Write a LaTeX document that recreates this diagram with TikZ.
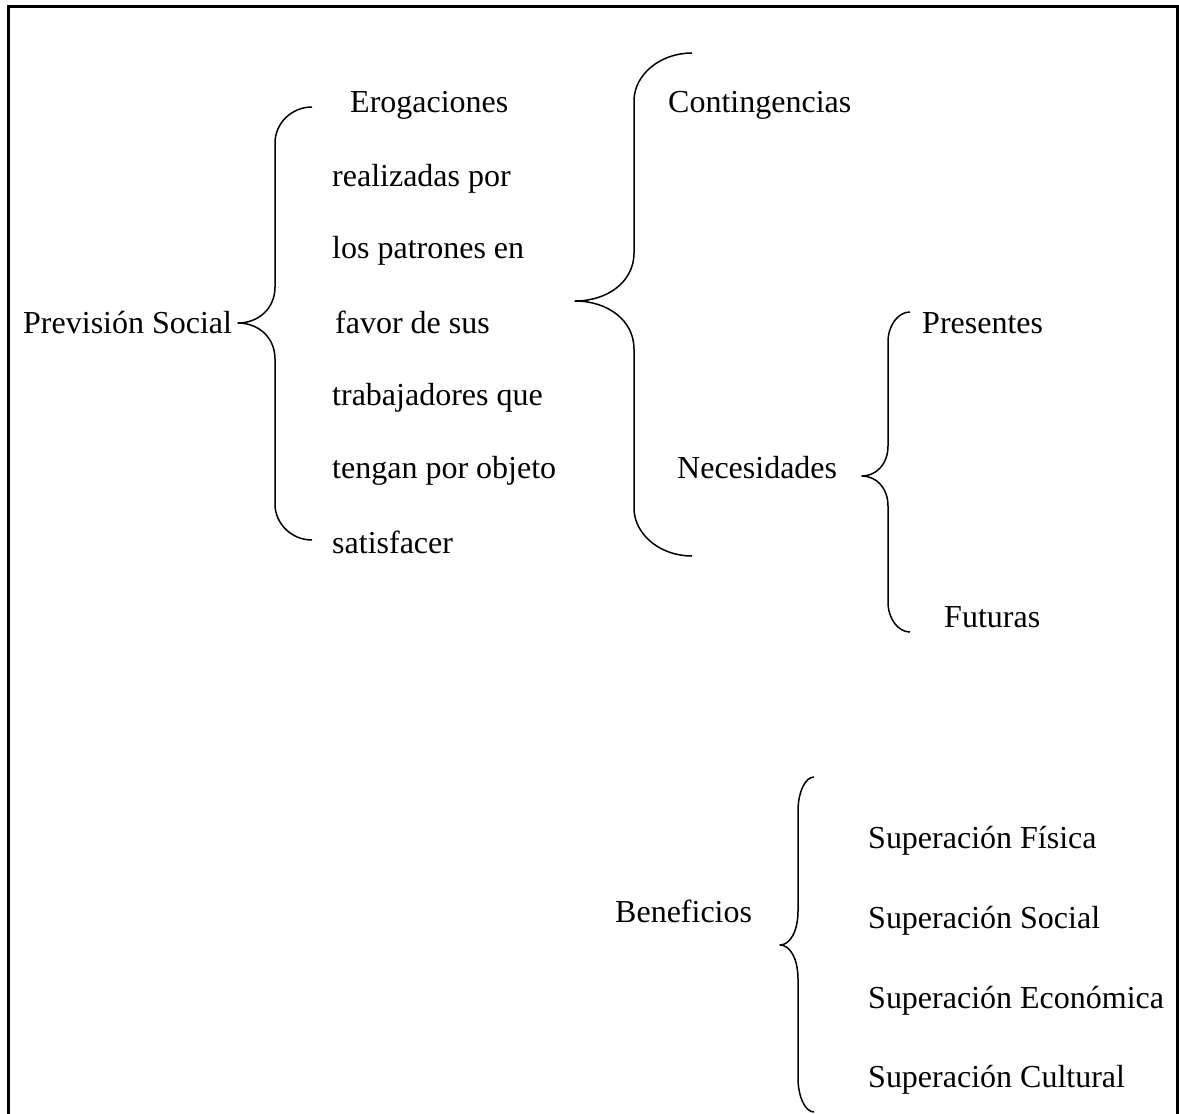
\documentclass[tikz,border=0pt]{standalone}
\usepackage{fontspec}
\setmainfont{Liberation Serif}
\usepackage{tikz}
\usetikzlibrary{positioning}
\tikzset{
    texto/.style = {anchor=base west, inner sep=0pt, font=\fontsize{32}{38}\selectfont},
    llave/.style = {line width=1.5pt, line join=round},
    marco/.style = {line width=3pt},
}
% #1 x end, #2 x vertical, #3 x tip, #4 y top, #5 y tip, #6 y bottom, #7 radius
\newcommand{\llave}[7]{%
  \draw[llave] (#1,#4) .. controls ({#2+0.45*(#1-#2)},#4) and (#2,#4+0.45*#7) .. (#2,#4+#7)
    -- (#2,#5-#7) .. controls (#2,#5-0.4*#7) and ({#2-0.45*(#2-#3)},#5) .. (#3,#5)
    .. controls ({#2-0.45*(#2-#3)},#5) and (#2,#5+0.4*#7) .. (#2,#5+#7)
    -- (#2,#6-#7) .. controls (#2,#6-0.45*#7) and ({#2+0.45*(#1-#2)},#6) .. (#1,#6);}

\begin{document}
\begin{tikzpicture}[x=1pt, y=-1pt]
  \useasboundingbox (0,0) rectangle (1179,1114);
  \draw[marco] (8,1114) -- (8,6) -- (1177,6) -- (1177,1114);

  \node[texto] (prev) at (23,333) {Previsión Social};
  \node[texto] (ero1) at (350,112) {Erogaciones};
  \node[texto] (ero2) at (332,186) {realizadas por};
  \node[texto] (ero3) at (332,258) {los patrones en};
  \node[texto] (ero4) at (335,333) {favor de sus};
  \node[texto] (ero5) at (332,405) {trabajadores que};
  \node[texto] (ero6) at (332,478) {tengan por objeto};
  \node[texto] (ero7) at (332,553) {satisfacer};

  \node[texto] (cont) at (668,112) {Contingencias};
  \node[texto] (nec)  at (677,478) {Necesidades};
  \node[texto] (pres) at (922,333) {Presentes};
  \node[texto] (fut)  at (944,627) {Futuras};

  \node[texto] (ben) at (615,922) {Beneficios};
  \foreach \nombre/\y [count=\i] in {Física/848, Social/928, Económica/1008, Cultural/1087}
    \node[texto] (sup\i) at (868,\y) {Superación \nombre};

  \llave{312}{275}{238}{107}{323}{540}{36}
  \llave{692}{634}{575}{53}{301}{556}{48}
  \llave{910}{888}{862}{312}{476}{632}{30}
  \llave{814}{798}{780}{777}{945}{1112}{34}
\end{tikzpicture}
\end{document}
